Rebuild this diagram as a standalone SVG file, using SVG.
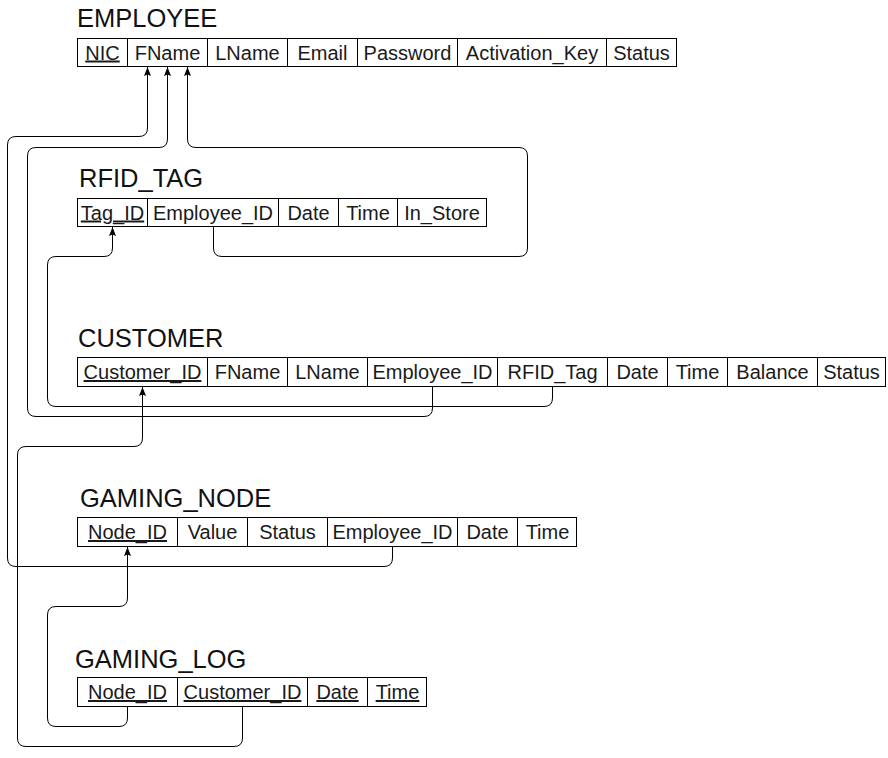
<svg xmlns="http://www.w3.org/2000/svg" width="888" height="758" viewBox="0 0 888 758">
<style>
  .title { font-family: "Liberation Sans", Arial, sans-serif; font-size: 25.5px; fill: #111; }
  .cell { font-family: "Liberation Sans", Arial, sans-serif; font-size: 20px; fill: #1a1a1a; text-anchor: middle; }
  .pk { text-decoration: underline; }
  .box { fill: #fff; stroke: #000; stroke-width: 1; }
  .div { stroke: #000; stroke-width: 1; }
  .conn { fill: none; stroke: #000; stroke-width: 1; }
</style>
<defs>
  <marker id="arrow" markerUnits="userSpaceOnUse" markerWidth="8" markerHeight="10" refX="3.5" refY="0" orient="0" viewBox="0 0 8 10">
    <path d="M3.5,0 L7,9 L3.5,7.5 L0,9 Z" fill="#000"/>
  </marker>
</defs>
<rect width="888" height="758" fill="#fff"/>

<g id="employee">
  <text class="title" x="77" y="27">EMPLOYEE</text>
  <rect class="box" x="77.5" y="38.5" width="599" height="28"/>
  <path class="div" d="M127.5,38.5 V66.5 M207.5,38.5 V66.5 M287.5,38.5 V66.5 M357.5,38.5 V66.5 M457.5,38.5 V66.5 M606.5,38.5 V66.5"/>
  <text class="cell pk" x="102.5" y="59.5">NIC</text>
  <text class="cell" x="167.5" y="59.5">FName</text>
  <text class="cell" x="247.5" y="59.5">LName</text>
  <text class="cell" x="322.5" y="59.5">Email</text>
  <text class="cell" x="407.5" y="59.5">Password</text>
  <text class="cell" x="532" y="59.5">Activation_Key</text>
  <text class="cell" x="641.5" y="59.5">Status</text>
</g>

<g id="rfid_tag">
  <text class="title" x="79" y="187">RFID_TAG</text>
  <rect class="box" x="77.5" y="198.5" width="409" height="28"/>
  <path class="div" d="M147.5,198.5 V226.5 M278.5,198.5 V226.5 M338.5,198.5 V226.5 M397.5,198.5 V226.5"/>
  <text class="cell pk" x="112.5" y="219.5">Tag_ID</text>
  <text class="cell" x="213" y="219.5">Employee_ID</text>
  <text class="cell" x="308.5" y="219.5">Date</text>
  <text class="cell" x="368" y="219.5">Time</text>
  <text class="cell" x="442" y="219.5">In_Store</text>
</g>

<g id="customer">
  <text class="title" x="78" y="347">CUSTOMER</text>
  <rect class="box" x="77.5" y="357.5" width="808" height="29"/>
  <path class="div" d="M207.5,357.5 V386.5 M287.5,357.5 V386.5 M367.5,357.5 V386.5 M497.5,357.5 V386.5 M607.5,357.5 V386.5 M667.5,357.5 V386.5 M727.5,357.5 V386.5 M817.5,357.5 V386.5"/>
  <text class="cell pk" x="142.5" y="379">Customer_ID</text>
  <text class="cell" x="247.5" y="379">FName</text>
  <text class="cell" x="327.5" y="379">LName</text>
  <text class="cell" x="432.5" y="379">Employee_ID</text>
  <text class="cell" x="552.5" y="379">RFID_Tag</text>
  <text class="cell" x="637.5" y="379">Date</text>
  <text class="cell" x="697.5" y="379">Time</text>
  <text class="cell" x="772.5" y="379">Balance</text>
  <text class="cell" x="851.5" y="379">Status</text>
</g>

<g id="gaming_node">
  <text class="title" x="80" y="507">GAMING_NODE</text>
  <rect class="box" x="77.5" y="517.5" width="499" height="29"/>
  <path class="div" d="M177.5,517.5 V546.5 M247.5,517.5 V546.5 M327.5,517.5 V546.5 M457.5,517.5 V546.5 M517.5,517.5 V546.5"/>
  <text class="cell pk" x="127.5" y="539">Node_ID</text>
  <text class="cell" x="212.5" y="539">Value</text>
  <text class="cell" x="287.5" y="539">Status</text>
  <text class="cell" x="392.5" y="539">Employee_ID</text>
  <text class="cell" x="487.5" y="539">Date</text>
  <text class="cell" x="547.5" y="539">Time</text>
</g>

<g id="gaming_log">
  <text class="title" x="75" y="668">GAMING_LOG</text>
  <rect class="box" x="77.5" y="677.5" width="349" height="29"/>
  <path class="div" d="M177.5,677.5 V706.5 M307.5,677.5 V706.5 M367.5,677.5 V706.5"/>
  <text class="cell pk" x="127.5" y="699">Node_ID</text>
  <text class="cell pk" x="242.5" y="699">Customer_ID</text>
  <text class="cell pk" x="337.5" y="699">Date</text>
  <text class="cell pk" x="397.5" y="699">Time</text>
</g>

<g id="connectors">
  <path class="conn" marker-end="url(#arrow)" d="M392.5,546.5 V558 Q392.5,566.5 384,566.5 H16 Q7.5,566.5 7.5,558 V145 Q7.5,136.5 16,136.5 H139 Q147.5,136.5 147.5,128 V67"/>
  <path class="conn" marker-end="url(#arrow)" d="M432.5,386.5 V408 Q432.5,416.5 424,416.5 H36 Q27.5,416.5 27.5,408 V156 Q27.5,147.5 36,147.5 H159 Q167.5,147.5 167.5,139 V67"/>
  <path class="conn" marker-end="url(#arrow)" d="M213.5,226.5 V248 Q213.5,256.5 222,256.5 H519 Q527.5,256.5 527.5,248 V156 Q527.5,147.5 519,147.5 H196 Q187.5,147.5 187.5,139 V67"/>
  <path class="conn" marker-end="url(#arrow)" d="M552.5,386.5 V398 Q552.5,406.5 544,406.5 H56 Q47.5,406.5 47.5,398 V265 Q47.5,256.5 56,256.5 H104 Q112.5,256.5 112.5,248 V227"/>
  <path class="conn" marker-end="url(#arrow)" d="M242.5,706.5 V738 Q242.5,746.5 234,746.5 H26 Q17.5,746.5 17.5,738 V455 Q17.5,446.5 26,446.5 H134 Q142.5,446.5 142.5,438 V387"/>
  <path class="conn" marker-end="url(#arrow)" d="M127.5,706.5 V718 Q127.5,726.5 119,726.5 H56 Q47.5,726.5 47.5,718 V615 Q47.5,606.5 56,606.5 H119 Q127.5,606.5 127.5,598 V547"/>
</g>
</svg>
